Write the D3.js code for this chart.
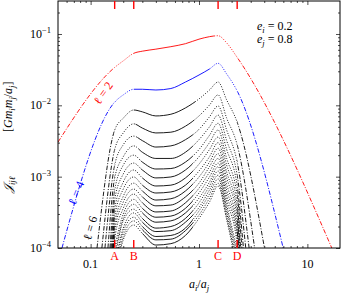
<!DOCTYPE html>
<html>
<head>
<meta charset="utf-8">
<script src="https://cdn.jsdelivr.net/npm/d3@7"></script>
<style>
  body { margin: 0; background: #fff; }
</style>
</head>
<body>
<svg id="chart" width="341" height="293" font-family="Liberation Serif, DejaVu Serif, serif"></svg>
<script>
// multipole order of each curve (red, blue, then black)
var ells = [2,4,6,8,10,12,14,16,18,20,22,24,26,28,30,32,34,36,38,40];

// a_i/a_j sample points between A and D
var gridAlpha = [0.1667,0.2,0.25,0.3,0.4,0.55,0.75,1.0,1.25,1.5,1.8,2.25];

// J_ijl read at gridAlpha, one row per ell
var jOnGrid = [
  [3.4e-2,4.2e-2,5.36e-2,5.74e-2,6.13e-2,6.64e-2,7.31e-2,8.46e-2,9.17e-2,9.46e-2,7.5e-2,4.7e-2],
  [1.11e-2,1.4e-2,1.68e-2,1.68e-2,1.64e-2,1.72e-2,2.12e-2,2.66e-2,3.23e-2,3.88e-2,2.75e-2,1.59e-2],
  [4.5e-3,6.6e-3,8.6e-3,8.1e-3,7.1e-3,7.5e-3,9.2e-3,1.23e-2,1.64e-2,2.12e-2,1.19e-2,5.8e-3],
  [2.4e-3,4.1e-3,5.5e-3,4.8e-3,4.1e-3,4.2e-3,5.1e-3,7.1e-3,1.01e-2,1.4e-2,6.6e-3,2.8e-3],
  [1.45e-3,2.8e-3,3.7e-3,3.2e-3,2.6e-3,2.7e-3,3.3e-3,4.6e-3,6.9e-3,9.8e-3,4.5e-3,1.6e-3],
  [9.6e-4,1.9e-3,2.7e-3,2.2e-3,1.8e-3,1.8e-3,2.2e-3,3.3e-3,5.0e-3,7.3e-3,3.2e-3,1.05e-3],
  [6.5e-4,1.45e-3,2.0e-3,1.6e-3,1.28e-3,1.3e-3,1.6e-3,2.4e-3,3.8e-3,5.6e-3,2.4e-3,7.4e-4],
  [4.7e-4,1.09e-3,1.55e-3,1.24e-3,9.6e-4,9.9e-4,1.24e-3,1.9e-3,3.0e-3,4.5e-3,1.8e-3,5.5e-4],
  [3.5e-4,8.4e-4,1.24e-3,9.6e-4,7.4e-4,7.6e-4,9.6e-4,1.5e-3,2.4e-3,3.6e-3,1.45e-3,4.1e-4],
  [2.7e-4,6.7e-4,9.9e-4,7.6e-4,5.9e-4,6.1e-4,7.6e-4,1.2e-3,1.9e-3,3.0e-3,1.16e-3,3.2e-4],
  [2.1e-4,5.3e-4,8.1e-4,6.3e-4,4.7e-4,4.9e-4,6.3e-4,9.9e-4,1.6e-3,2.5e-3,9.6e-4,2.6e-4],
  [1.7e-4,4.4e-4,6.7e-4,5.2e-4,3.9e-4,4.0e-4,5.2e-4,8.1e-4,1.38e-3,2.1e-3,7.8e-4,2.0e-4],
  [1.33e-4,3.6e-4,5.7e-4,4.3e-4,3.2e-4,3.3e-4,4.3e-4,6.9e-4,1.16e-3,1.8e-3,6.5e-4,1.7e-4],
  [1.05e-4,3.0e-4,4.8e-4,3.6e-4,2.7e-4,2.8e-4,3.6e-4,5.9e-4,9.9e-4,1.55e-3,5.5e-4,1.4e-4],
  [8.2e-5,2.6e-4,4.1e-4,3.1e-4,2.3e-4,2.4e-4,3.1e-4,5.0e-4,8.4e-4,1.38e-3,4.7e-4,1.1e-4],
  [6.6e-5,2.4e-4,3.5e-4,2.6e-4,1.9e-4,2.0e-4,2.6e-4,4.3e-4,7.4e-4,1.2e-3,4.0e-4,9.4e-5],
  [5.6e-5,1.9e-4,3.1e-4,2.3e-4,1.7e-4,1.75e-4,2.3e-4,3.7e-4,6.5e-4,1.05e-3,3.5e-4,8.0e-5],
  [4.8e-5,1.7e-4,2.7e-4,2.0e-4,1.45e-4,1.5e-4,1.9e-4,3.3e-4,5.7e-4,9.3e-4,3.1e-4,6.8e-5],
  [4.1e-5,1.45e-4,2.4e-4,1.8e-4,1.3e-4,1.33e-4,1.75e-4,2.9e-4,5.0e-4,8.1e-4,2.7e-4,5.8e-5],
  [3.6e-5,1.3e-4,2.1e-4,1.6e-4,1.1e-4,1.15e-4,1.5e-4,2.6e-4,4.4e-4,7.4e-4,2.5e-4,4.9e-5]
];

// where the inner power-law tail starts (left edge or bottom edge of the frame)
var tailInAlpha = [0.05,0.0544,0.1145,0.127,0.1355,0.1445,0.151,0.1545,0.158,0.16,0.162,0.1638,0.1655,null,null,null,null,null,null,null];
var tailInJ     = [3.05e-3,1e-4,1e-4,1e-4,1e-4,1e-4,1e-4,1e-4,1e-4,1e-4,1e-4,1e-4,1e-4,null,null,null,null,null,null,null];
// where the outer power-law tail leaves the frame
var tailOutAlpha = [16.8,5.98,4.02,3.26,2.9,2.7,2.57,2.49,2.42,2.38,2.35,2.31,2.29,2.28,2.26,null,null,null,null,null];
var tailOutJ     = [1e-4,1e-4,1e-4,1e-4,1e-4,1e-4,1e-4,1e-4,1e-4,1e-4,1e-4,1e-4,1e-4,1e-4,1e-4,null,null,null,null,null];

// stretch of each curve drawn solid (dotted elsewhere between A and D)
var solidFrom = [0.25,0.25,0.25,0.26,0.27,0.28,0.29,0.29,0.3,0.3,0.3,0.3,0.3,0.3,0.3,0.3,0.3,0.3,0.3,0.3];
var solidTo   = [1.4,1.26,0.92,0.9,0.88,0.88,0.88,0.88,0.88,0.88,0.88,0.88,0.88,0.88,0.88,0.88,0.88,0.88,0.88,0.88];

// orbit-crossing markers
var markAlpha = [1/6, 0.25, 1.5, 2.25];
var markNames = ["A","B","C","D"];

var xMajor = [0.1, 1, 10];
var xMajorLabels = ["0.1", "1", "10"];
var yMajor = [1e-4, 1e-3, 1e-2, 1e-1];
var yMajorExp = ["\u22124", "\u22123", "\u22122", "\u22121"];

var svg = d3.select("#chart");

var x = d3.scaleLog().domain([0.05, 20]).range([58, 340]);
var y = d3.scaleLog().domain([1e-4, 0.29]).range([248, 1]);

var xMinor = [], yMinor = [];
[0.01, 0.1, 1, 10].forEach(function(d) {
  for (var k = 2; k <= 9; k++) {
    var v = d * k;
    if (v > 0.05 && v < 20) xMinor.push(v);
  }
});
[1e-4, 1e-3, 1e-2, 1e-1].forEach(function(d) {
  for (var k = 2; k <= 9; k++) {
    var v = d * k;
    if (v < 0.29) yMinor.push(v);
  }
});

// clip regions for each line style, per curve
var defs = svg.append("defs");
function addClip(id, ranges) {
  var cp = defs.append("clipPath").attr("id", id);
  ranges.forEach(function(r) {
    cp.append("rect")
      .attr("x", x(r[0])).attr("y", 1)
      .attr("width", x(r[1]) - x(r[0])).attr("height", 247);
  });
}

var line = d3.line()
  .x(function(d) { return x(d[0]); })
  .y(function(d) { return y(d[1]); })
  .curve(d3.curveMonotoneX);

var curves = ells.map(function(l, i) {
  var pts = [];
  if (tailInAlpha[i] != null) pts.push([tailInAlpha[i], tailInJ[i]]);
  gridAlpha.forEach(function(a, k) { pts.push([a, jOnGrid[i][k]]); });
  if (tailOutAlpha[i] != null) pts.push([tailOutAlpha[i], tailOutJ[i]]);
  addClip("dd" + i, [[0.05, markAlpha[0]], [markAlpha[3], 20]]);
  addClip("dt" + i, [[markAlpha[0], solidFrom[i]], [solidTo[i], markAlpha[3]]]);
  addClip("sl" + i, [[solidFrom[i], solidTo[i]]]);
  return {i: i, l: l, pts: pts, color: i === 0 ? "#ff0000" : (i === 1 ? "#0000ff" : "#000")};
});

var styles = [
  {clip: "dd", dash: "4.5,1.6,1,1.6"},
  {clip: "dt", dash: "1,1.6"},
  {clip: "sl", dash: null}
];

// draw black first so red and blue sit on top
var order = curves.slice(2).concat([curves[1], curves[0]]);
var cg = svg.append("g");
order.forEach(function(c) {
  styles.forEach(function(s) {
    cg.append("path")
      .attr("clip-path", "url(#" + s.clip + c.i + ")")
      .attr("d", line(c.pts))
      .attr("fill", "none")
      .attr("stroke", c.color)
      .attr("stroke-width", 0.9)
      .attr("stroke-dasharray", s.dash);
  });
});

// axes, ticks pointing inward on all four sides
function tickAxis(axis, pos, vals, size) {
  svg.append("g").attr("transform", pos)
    .call(axis.tickValues(vals).tickSize(size).tickFormat(""))
    .call(function(g) { g.select(".domain").remove(); })
    .selectAll("line").attr("stroke", "#000").attr("stroke-width", 0.7);
}
tickAxis(d3.axisBottom(x), "translate(0,248)", xMajor, -4);
tickAxis(d3.axisBottom(x), "translate(0,248)", xMinor, -2);
tickAxis(d3.axisTop(x), "translate(0,1)", xMajor, -4);
tickAxis(d3.axisTop(x), "translate(0,1)", xMinor, -2);
tickAxis(d3.axisLeft(y), "translate(58,0)", yMajor, -4);
tickAxis(d3.axisLeft(y), "translate(58,0)", yMinor, -2);
tickAxis(d3.axisRight(y), "translate(340,0)", yMajor, -4);
tickAxis(d3.axisRight(y), "translate(340,0)", yMinor, -2);

svg.append("rect")
  .attr("x", 58).attr("y", 1).attr("width", 282).attr("height", 247)
  .attr("fill", "none").attr("stroke", "#000").attr("stroke-width", 1);

// x tick labels
svg.append("g").selectAll("text").data(xMajor).enter().append("text")
  .attr("x", function(d) { return x(d); })
  .attr("y", 268)
  .attr("text-anchor", "middle")
  .attr("font-size", 12)
  .text(function(d, i) { return xMajorLabels[i]; });

// y tick labels 10^n
var yl = svg.append("g").selectAll("text").data(yMajor).enter().append("text")
  .attr("x", 51)
  .attr("y", function(d) { return y(d) + 4; })
  .attr("text-anchor", "end")
  .attr("font-size", 12);
yl.append("tspan").text("10");
yl.append("tspan").attr("dy", -5).attr("font-size", 8.5)
  .text(function(d, i) { return yMajorExp[i]; });

// orbit-crossing marks A..D
markAlpha.forEach(function(a, i) {
  svg.append("line").attr("x1", x(a)).attr("x2", x(a)).attr("y1", 1).attr("y2", 9)
    .attr("stroke", "#ff0000").attr("stroke-width", 1.4);
  svg.append("line").attr("x1", x(a)).attr("x2", x(a)).attr("y1", 240).attr("y2", 248)
    .attr("stroke", "#ff0000").attr("stroke-width", 1.4);
  svg.append("text").attr("x", x(a)).attr("y", 260)
    .attr("text-anchor", "middle").attr("font-size", 12)
    .attr("fill", "#ff0000").text(markNames[i]);
});

// axis titles
var xt = svg.append("text").attr("x", 199).attr("y", 288)
  .attr("text-anchor", "middle").attr("font-size", 12);
xt.append("tspan").attr("font-style", "italic").text("a");
xt.append("tspan").attr("font-style", "italic").attr("font-size", 8.5).attr("dy", 2.5).text("i");
xt.append("tspan").attr("dy", -2.5).text("/");
xt.append("tspan").attr("font-style", "italic").text("a");
xt.append("tspan").attr("font-style", "italic").attr("font-size", 8.5).attr("dy", 2.5).text("j");

var yt = svg.append("g").attr("transform", "translate(12,0) rotate(-90)");
var yt1 = yt.append("text").attr("x", -193).attr("y", 0).attr("font-size", 12);
yt1.append("tspan").attr("font-style", "italic").text("\uD835\uDCA5");
yt1.append("tspan").attr("font-style", "italic").attr("font-size", 8.5).attr("dy", 2.5).text("ij\u2113");
var yt2 = yt.append("text").attr("x", -132).attr("y", 0).attr("font-size", 12);
yt2.append("tspan").text("[");
yt2.append("tspan").attr("font-style", "italic").text("Gm");
yt2.append("tspan").attr("font-style", "italic").attr("font-size", 8.5).attr("dy", 2.5).text("i");
yt2.append("tspan").attr("font-style", "italic").attr("dy", -2.5).text("m");
yt2.append("tspan").attr("font-style", "italic").attr("font-size", 8.5).attr("dy", 2.5).text("j");
yt2.append("tspan").attr("dy", -2.5).text("/");
yt2.append("tspan").attr("font-style", "italic").text("a");
yt2.append("tspan").attr("font-style", "italic").attr("font-size", 8.5).attr("dy", 2.5).text("j");
yt2.append("tspan").attr("dy", -2.5).text("]");

// curve labels along the tails
var ellLabels = [
  {text: "\u2113 = 2", cx: 103, cy: 93, rot: -55, color: "#ff0000"},
  {text: "\u2113 = 4", cx: 76, cy: 193, rot: -68, color: "#0000ff"},
  {text: "\u2113 = 6", cx: 90, cy: 228, rot: -74, color: "#000"}
];
ellLabels.forEach(function(d) {
  svg.append("text")
    .attr("transform", "translate(" + d.cx + "," + d.cy + ") rotate(" + d.rot + ")")
    .attr("text-anchor", "middle").attr("dy", "0.35em")
    .attr("font-size", 12).attr("fill", d.color)
    .text(d.text);
});

// eccentricities
var ecc = [["i", "0.2", 30], ["j", "0.8", 43]];
ecc.forEach(function(e) {
  var t = svg.append("text").attr("x", 257).attr("y", e[2]).attr("font-size", 12);
  t.append("tspan").attr("font-style", "italic").text("e");
  t.append("tspan").attr("font-style", "italic").attr("font-size", 8.5).attr("dy", 2.5).text(e[0]);
  t.append("tspan").attr("dy", -2.5).text(" = " + e[1]);
});
</script>
</body>
</html>
